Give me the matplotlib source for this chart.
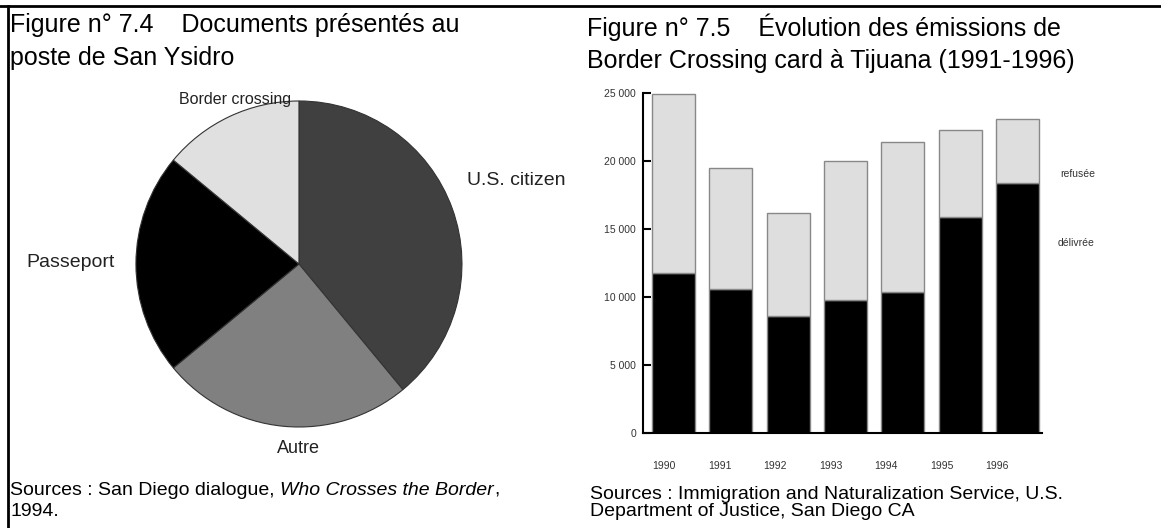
import matplotlib
matplotlib.use('Agg')
import matplotlib.pyplot as plt
from matplotlib.lines import Line2D

plt.rcParams['font.family'] = ['Liberation Sans', 'DejaVu Sans']

# Figure 7.4 - documents presented at San Ysidro (percent)
pie_labels = ['U.S. citizen', 'Autre', 'Passeport', 'Border crossing']
pie_values = [39, 25, 22, 14]
pie_colors = ['#404040', '#808080', '#000000', '#e0e0e0']

# Figure 7.5 - Border Crossing cards issued in Tijuana
years = ['1990', '1991', '1992', '1993', '1994', '1995', '1996']
delivree = [11800, 10600, 8600, 9800, 10400, 15900, 18400]
total = [24900, 19500, 16200, 20000, 21400, 22300, 23100]
refusee = [t - d for t, d in zip(total, delivree)]

fig = plt.figure(figsize=(11.61, 5.28), dpi=100)

# frame lines
fig.add_artist(Line2D([0, 1], [0.988, 0.988], color='black', lw=2, transform=fig.transFigure))
fig.add_artist(Line2D([0.0065, 0.0065], [0, 0.988], color='black', lw=2, transform=fig.transFigure))

# titles and sources
fig.text(0.009, 0.975, 'Figure n° 7.4    Documents présentés au\nposte de San Ysidro',
         fontsize=18, va='top', ha='left', linespacing=1.45)
fig.text(0.506, 0.975, 'Figure n° 7.5    Évolution des émissions de\nBorder Crossing card à Tijuana (1991-1996)',
         fontsize=18, va='top', ha='left', linespacing=1.45)

bg = fig.add_axes([0, 0, 1, 1], zorder=-1)
bg.axis('off')
s1 = bg.text(0.009, 0.055, 'Sources : San Diego dialogue, ', fontsize=14, va='bottom', ha='left')
s2 = bg.annotate('Who Crosses the Border', xy=(1, 0), xycoords=s1, va='bottom', ha='left',
                 fontsize=14, style='italic')
bg.annotate(',', xy=(1, 0), xycoords=s2, va='bottom', ha='left', fontsize=14)
bg.text(0.009, 0.015, '1994.', fontsize=14, va='bottom', ha='left')
bg.text(0.508, 0.015, 'Sources : Immigration and Naturalization Service, U.S.\nDepartment of Justice, San Diego CA',
        fontsize=14, va='bottom', ha='left', linespacing=1.0)

# pie
axp = fig.add_axes([0.0820, 0.1141, 0.3510, 0.7718])
wedges, texts = axp.pie(pie_values, labels=pie_labels, colors=pie_colors, startangle=90,
                        counterclock=False,
                        wedgeprops=dict(edgecolor='#333333', linewidth=0.8),
                        textprops=dict(color='#222222'))
axp.set_xlim(-1.25, 1.25)
axp.set_ylim(-1.25, 1.25)
axp.set_aspect('equal')
label_pos = [(1.03, 0.515, 'left', 14), (0.0, -1.13, 'center', 13), (-1.13, 0.01, 'right', 14),
             (-0.39, 1.01, 'center', 11.5)]
for t, (lx, ly, ha, fs) in zip(texts, label_pos):
    t.set_position((lx, ly))
    t.set_ha(ha)
    t.set_va('center')
    t.set_fontsize(fs)

# stacked bars
ax = fig.add_axes([0.5538, 0.1799, 0.3437, 0.6440])
x = list(range(len(years)))
ax.bar(x, delivree, width=0.75, color='black', edgecolor='#888888', linewidth=1)
ax.bar(x, refusee, bottom=delivree, width=0.75, color='#dedede', edgecolor='#888888', linewidth=1)
ax.set_xlim(-0.53, 6.43)
ax.set_ylim(0, 25000)
ax.set_yticks([0, 5000, 10000, 15000, 20000, 25000])
ax.set_yticklabels(['0', '5 000', '10 000', '15 000', '20 000', '25 000'])
ax.set_xticks([xi * 0.968 - 0.16 for xi in x])
ax.set_xticklabels(years)
ax.tick_params(axis='y', direction='in', length=6, width=1.5, labelsize=7.5, labelcolor='#333333', pad=5)
ax.tick_params(axis='x', length=0, labelsize=7.5, labelcolor='#333333', pad=20)
ax.spines['top'].set_visible(False)
ax.spines['right'].set_visible(False)
ax.spines['left'].set_linewidth(1.5)
ax.spines['bottom'].set_linewidth(1.5)
ax.text(6.74, 19050, 'refusée', fontsize=7.5, color='#333333', va='center', ha='left', clip_on=False)
ax.text(6.70, 13940, 'délivrée', fontsize=7.5, color='#333333', va='center', ha='left', clip_on=False)

fig.savefig('out.png', dpi=100)
